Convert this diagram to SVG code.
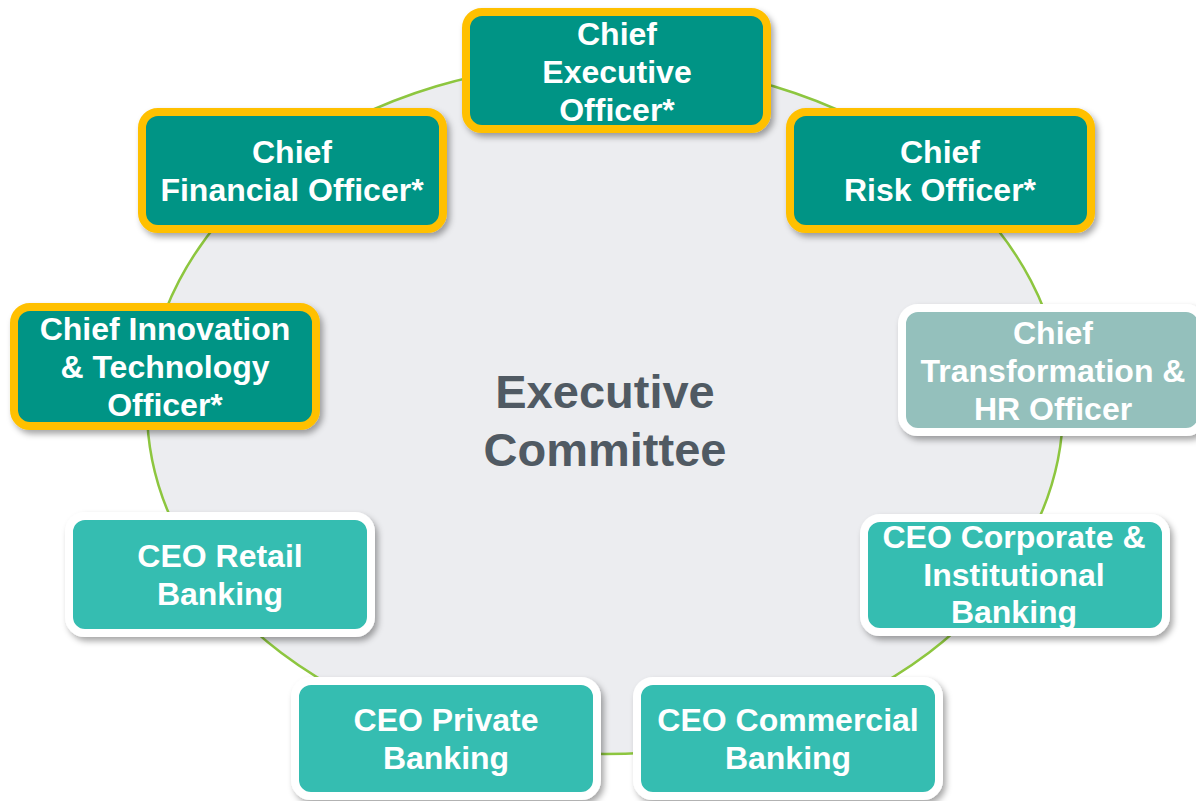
<svg xmlns="http://www.w3.org/2000/svg" width="1196" height="801" viewBox="0 0 1196 801">
<defs>
<filter id="sh" x="-10%" y="-10%" width="125%" height="130%">
<feDropShadow dx="3" dy="4" stdDeviation="3" flood-color="#000" flood-opacity="0.35"/>
</filter>
<style>
.box{stroke-width:8;filter:url(#sh)}
.gold{fill:#009485;stroke:#FFC000}
.hr{fill:#94C0BC;stroke:#FFFFFF}
.biz{fill:#36BDB1;stroke:#FFFFFF}
.t{font-family:"Liberation Sans",Arial,sans-serif;font-weight:bold;font-size:32px;fill:#FFFFFF;text-anchor:middle}
.c{font-family:"Liberation Sans",Arial,sans-serif;font-weight:bold;font-size:47px;fill:#505A63;text-anchor:middle}
</style>
</defs>
<rect width="1196" height="801" fill="#FFFFFF"/>
<g id="connectors">
<ellipse cx="605" cy="408" rx="458" ry="346" fill="#ECEDF0" stroke="#8DC63F" stroke-width="2.5"/>
</g>
<g id="center">
<text class="c" x="605" y="408">Executive</text>
<text class="c" x="605" y="466">Committee</text>
</g>
<g id="ceo">
<rect class="box gold" x="466" y="12" width="301" height="117" rx="16"/>
<text class="t" x="617" y="45">Chief</text>
<text class="t" x="617" y="83">Executive</text>
<text class="t" x="617" y="121">Officer*</text>
</g>
<g id="cfo">
<rect class="box gold" x="142" y="112" width="301" height="117" rx="16"/>
<text class="t" x="292" y="163">Chief</text>
<text class="t" x="292" y="201">Financial Officer*</text>
</g>
<g id="cro">
<rect class="box gold" x="790" y="112" width="301" height="117" rx="16"/>
<text class="t" x="940" y="163">Chief</text>
<text class="t" x="940" y="201">Risk Officer*</text>
</g>
<g id="cito">
<rect class="box gold" x="14" y="307" width="302" height="119" rx="16"/>
<text class="t" x="165" y="340">Chief Innovation</text>
<text class="t" x="165" y="378">&amp; Technology</text>
<text class="t" x="165" y="416">Officer*</text>
</g>
<g id="cthro">
<rect class="box hr" x="902" y="308" width="300" height="124" rx="16"/>
<text class="t" x="1053" y="344">Chief</text>
<text class="t" x="1053" y="382">Transformation &amp;</text>
<text class="t" x="1053" y="420">HR Officer</text>
</g>
<g id="ceo-cib">
<rect class="box biz" x="864" y="518" width="302" height="114" rx="16"/>
<text class="t" x="1014" y="548">CEO Corporate &amp;</text>
<text class="t" x="1014" y="586">Institutional</text>
<text class="t" x="1014" y="623">Banking</text>
</g>
<g id="ceo-commercial">
<rect class="box biz" x="637" y="681" width="302" height="115" rx="16"/>
<text class="t" x="788" y="731">CEO Commercial</text>
<text class="t" x="788" y="769">Banking</text>
</g>
<g id="ceo-private">
<rect class="box biz" x="295" y="681" width="302" height="115" rx="16"/>
<text class="t" x="446" y="731">CEO Private</text>
<text class="t" x="446" y="769">Banking</text>
</g>
<g id="ceo-retail">
<rect class="box biz" x="69" y="516" width="302" height="117" rx="16"/>
<text class="t" x="220" y="567">CEO Retail</text>
<text class="t" x="220" y="605">Banking</text>
</g>
</svg>
